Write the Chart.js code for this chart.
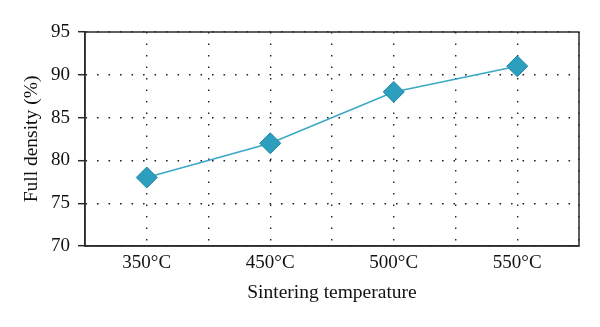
<!DOCTYPE html>
<html>
<head>
<meta charset="utf-8">
<script src="https://cdn.jsdelivr.net/npm/chart.js@4"></script>
<style>
  html, body { margin: 0; padding: 0; background: #fff; }
  #wrap { width: 600px; height: 327px; }
</style>
</head>
<body>
<div id="wrap"><canvas id="chart"></canvas></div>
<script>
// dados
const temperatures = ["350°C", "450°C", "500°C", "550°C"];
const fullDensity = [78, 82, 88, 91];
const yTicks = [70, 75, 80, 85, 90, 95];

const serif = "'Liberation Serif', 'DejaVu Serif', serif";
const axisColor = "#2b2b2b";
const gridColor = "#222";
const dots = [1.6, 9.9];

// caixa em volta da área do gráfico
const frameBox = {
  id: "frameBox",
  beforeDatasetsDraw(chart) {
    const { ctx, chartArea: a } = chart;
    ctx.save();
    ctx.strokeStyle = axisColor;
    ctx.lineWidth = 1.5;
    ctx.setLineDash([]);
    ctx.strokeRect(a.left, a.top, a.right - a.left, a.bottom - a.top);
    ctx.restore();
  },
};

const ctx = document.getElementById("chart").getContext("2d");
new Chart(ctx, {
  type: "line",
  data: {
    datasets: [
      {
        label: "Full density",
        data: temperatures.map((t, i) => ({ x: i, y: fullDensity[i] })),
        borderColor: "#3aa8c6",
        borderWidth: 1.6,
        backgroundColor: "#2b9fbd",
        pointStyle: "rectRot",
        pointRadius: 10.5,
        pointHoverRadius: 10.5,
        pointBorderColor: "#1f87a3",
        pointBorderWidth: 1,
        tension: 0,
      },
    ],
  },
  options: {
    responsive: true,
    maintainAspectRatio: false,
    animation: false,
    layout: { padding: { left: 0, right: 21, top: 32, bottom: 0 } },
    plugins: {
      legend: { display: false },
      tooltip: { enabled: false },
    },
    scales: {
      x: {
        type: "linear",
        min: -0.5,
        max: temperatures.length - 0.5,
        afterBuildTicks: (scale) => {
          const t = [];
          for (let v = -0.5; v <= temperatures.length - 0.5; v += 0.5) t.push({ value: v });
          scale.ticks = t;
        },
        afterFit: (scale) => { scale.height = 81; },
        ticks: {
          autoSkip: false,
          maxRotation: 0,
          padding: 6,
          color: "#111",
          font: { family: serif, size: 19 },
          callback: (v) => (Number.isInteger(v) ? temperatures[v] : ""),
        },
        grid: {
          color: gridColor,
          lineWidth: 1.4,
          drawTicks: false,
        },
        border: { display: true, color: axisColor, width: 1.5, dash: dots },
        title: {
          display: true,
          text: "Sintering temperature",
          color: "#111",
          font: { family: serif, size: 19.5 },
          padding: { top: 0, bottom: 22 },
        },
      },
      y: {
        min: yTicks[0],
        max: yTicks[yTicks.length - 1],
        afterBuildTicks: (scale) => { scale.ticks = yTicks.map((v) => ({ value: v })); },
        afterFit: (scale) => { scale.width = 85; },
        ticks: {
          padding: 8,
          color: "#111",
          font: { family: serif, size: 19 },
        },
        grid: {
          color: gridColor,
          lineWidth: 1.4,
          tickLength: 7,
          tickColor: axisColor,
          tickWidth: 1.5,
          tickBorderDash: [],
        },
        border: { display: true, color: axisColor, width: 1.5, dash: dots },
        title: {
          display: true,
          text: "Full density (%)",
          color: "#111",
          font: { family: serif, size: 19.5 },
          padding: { top: 20, bottom: 0 },
        },
      },
    },
  },
  plugins: [frameBox],
});
</script>
</body>
</html>
